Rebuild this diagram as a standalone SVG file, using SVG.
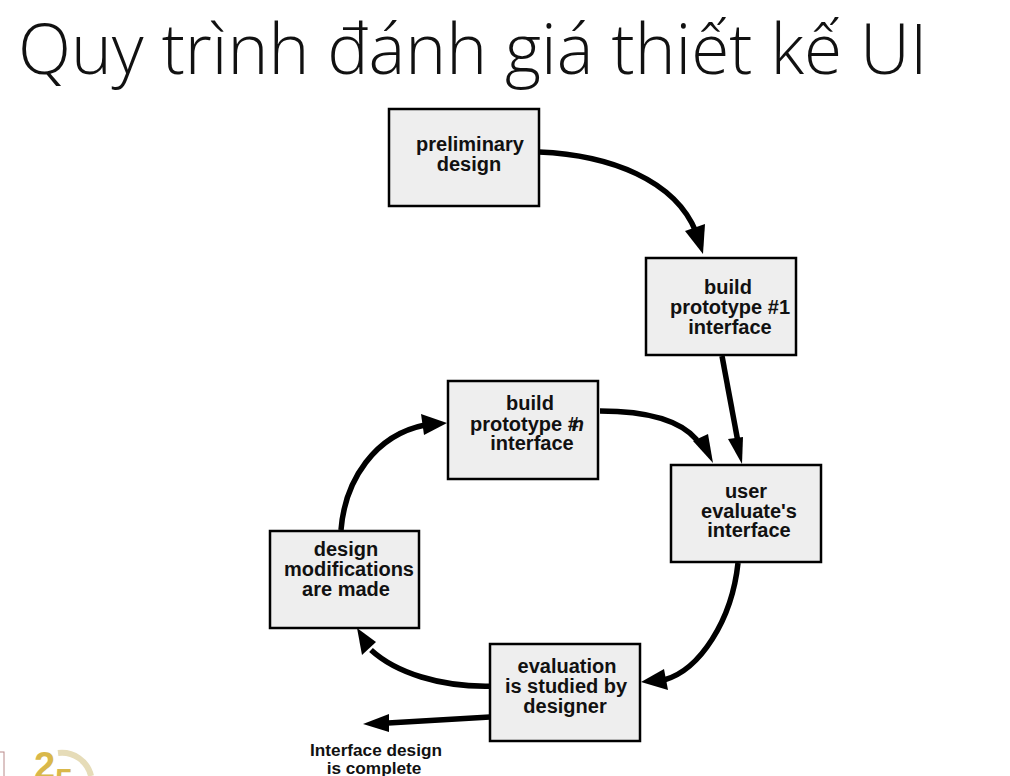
<svg xmlns="http://www.w3.org/2000/svg" width="1010" height="776" viewBox="0 0 1010 776">
<style>
.box{fill:#eeeeee;stroke:#000;stroke-width:2.5}
.t{font-family:"Liberation Sans",Arial,sans-serif;font-weight:bold;font-size:20px;text-anchor:middle;fill:#111}
.s{font-size:17.2px}
.c{fill:none;stroke:#000;stroke-width:5.5}
.h{fill:#000;stroke:none}
.g{font-family:"Liberation Sans",Arial,sans-serif;font-weight:bold;fill:#d9b84a}
</style>
<rect width="1010" height="776" fill="#fff"/>
<text x="18" y="74" font-family="'Open Sans','Noto Sans',sans-serif" font-weight="300" font-size="69.3" fill="#111">Quy trình đánh giá thiết kế UI</text>
<g id="logo">
<rect x="-2" y="752" width="6" height="30" fill="none" stroke="#b98a8a" stroke-width="1"/>
<path d="M58 753A30 30 0 0 1 91 776" fill="none" stroke="#e6dcb8" stroke-width="6"/>
<text class="g" x="34" y="779" font-size="38">2</text>
<text class="g" x="55" y="791" font-size="32">5</text>
</g>
<g id="connectors">
<path class="c" d="M539 152C610 155 675 180 696 232"/><polygon class="h" points="685,231 705,224 703,254"/>
<path class="c" d="M722 356L738 442"/><polygon class="h" points="728,439 743,437 742,464"/>
<path class="c" d="M600 411C645 411 680 420 697 440"/><polygon class="h" points="693,441 708,434 713,463"/>
<path class="c" d="M738 563C732 620 700 670 664 680"/><polygon class="h" points="664,669 668,690 641,682"/>
<path class="c" d="M495 686C440 688 395 672 371 650"/><polygon class="h" points="376,642 362,655 357,628"/>
<path class="c" d="M490 717L388 723"/><polygon class="h" points="389,714 389,732 363,724"/>
<path class="c" d="M341 530C345 480 375 435 425 425"/><polygon class="h" points="421,414 424,435 447,423"/>
</g>
<g id="preliminary"><rect class="box" x="389" y="109" width="150" height="97"/><text class="t" x="470" y="151">preliminary</text><text class="t" x="469" y="171">design</text></g>
<g id="proto1"><rect class="box" x="646" y="258" width="150" height="97"/><text class="t" x="728" y="294">build</text><text class="t" x="730" y="314">prototype #1</text><text class="t" x="730" y="334">interface</text></g>
<g id="proton"><rect class="box" x="448" y="381" width="150" height="98"/><text class="t" x="530" y="410">build</text><text class="t" x="527" y="431">prototype #<tspan font-style="italic" dx="-7">n</tspan></text><text class="t" x="532" y="450">interface</text></g>
<g id="user"><rect class="box" x="671" y="465" width="150" height="97"/><text class="t" x="746" y="498">user</text><text class="t" x="749" y="518">evaluate's</text><text class="t" x="749" y="537">interface</text></g>
<g id="mods"><rect class="box" x="270" y="531" width="149" height="97"/><text class="t" x="346" y="556">design</text><text class="t" x="349" y="576">modifications</text><text class="t" x="346" y="596">are made</text></g>
<g id="eval"><rect class="box" x="490" y="644" width="150" height="97"/><text class="t" x="567" y="673">evaluation</text><text class="t" x="566" y="693">is studied by</text><text class="t" x="565" y="713">designer</text></g>
<g id="complete"><text class="t s" x="376" y="756">Interface design</text><text class="t s" x="374" y="774">is complete</text></g>
</svg>
